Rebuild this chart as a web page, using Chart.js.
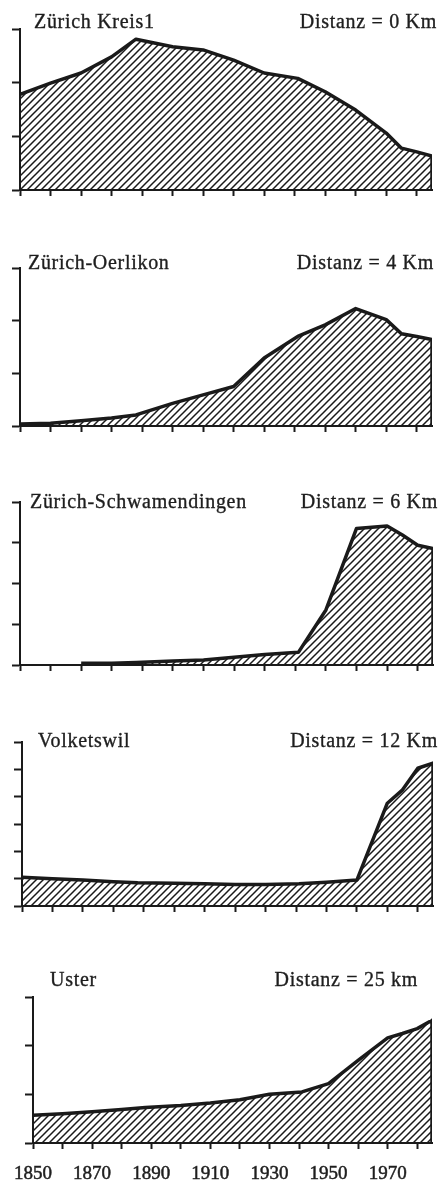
<!DOCTYPE html>
<html>
<head>
<meta charset="utf-8">
<title>Bevölkerungsentwicklung nach Distanz</title>
<script src="https://cdn.jsdelivr.net/npm/chart.js@4.4.1/dist/chart.umd.min.js"></script>
<style>
  html, body { margin: 0; padding: 0; background: #fff; }
  body { width: 443px; height: 1184px; position: relative; overflow: hidden; }
  .panel { position: absolute; left: 0; width: 443px; }
  .label {
    position: absolute;
    font-family: 'Liberation Serif', 'Times New Roman', serif;
    font-size: 20px;
    line-height: 20px;
    letter-spacing: 0.7px;
    color: #1e1e1e;
    -webkit-text-stroke: 0.35px #1e1e1e;
    white-space: nowrap;
  }
</style>
</head>
<body>
<script>
// Census years, shared by every panel
const years = [1850, 1860, 1870, 1880, 1888, 1900, 1910, 1920, 1930, 1941, 1950, 1960, 1970, 1975, 1980, 1985];

// Values per place (in axis tick units)
const kreis1 = [1.78, 1.99, 2.18, 2.48, 2.81, 2.67, 2.61, 2.42, 2.18, 2.08, 1.83, 1.49, 1.06, 0.78, 0.71, 0.63];
const oerlikon = [0.04, 0.05, 0.10, 0.15, 0.21, 0.43, 0.59, 0.75, 1.29, 1.70, 1.92, 2.23, 2.02, 1.75, 1.70, 1.64];
const schwamendingen = [null, null, 0.04, 0.04, 0.06, 0.10, 0.12, 0.19, 0.26, 0.31, 1.35, 3.35, 3.41, 3.19, 2.94, 2.86];
const volketswil = [1.05, 1.00, 0.95, 0.89, 0.85, 0.83, 0.81, 0.79, 0.79, 0.81, 0.87, 0.95, 3.76, 4.25, 5.04, 5.23];
const uster = [0.57, 0.60, 0.64, 0.69, 0.73, 0.77, 0.82, 0.89, 1.00, 1.05, 1.22, 1.70, 2.16, 2.25, 2.35, 2.52];

const placeNames = ['Zürich Kreis1', 'Zürich-Oerlikon', 'Zürich-Schwamendingen', 'Volketswil', 'Uster'];
const distances = ['Distanz = 0 Km', 'Distanz = 4 Km', 'Distanz = 6 Km', 'Distanz = 12 Km', 'Distanz = 25 km'];
const yMax = [3, 3, 4, 6, 3];
const xTickLabels = ['1850', '1870', '1890', '1910', '1930', '1950', '1970'];

const series = [kreis1, oerlikon, schwamendingen, volketswil, uster];

// Page placement of each panel: plot box and the two captions
const layout = [
  { top: 29,  bottom: 190,  left: 20, right: 432, nameX: 34, nameY: 11,  distR: 6 },
  { top: 268, bottom: 426,  left: 20, right: 432, nameX: 28, nameY: 252, distR: 9 },
  { top: 502, bottom: 665,  left: 20, right: 433, nameX: 30, nameY: 491, distR: 5 },
  { top: 742, bottom: 906,  left: 22, right: 433, nameX: 38, nameY: 730, distR: 5 },
  { top: 997, bottom: 1143, left: 27, right: 432, nameX: 50, nameY: 969, distR: 25 }
];

const ink = '#1a1a1a';

// Diagonal hatching like the original print
function makeHatch() {
  const s = 7;
  const c = document.createElement('canvas');
  c.width = s;
  c.height = s;
  const g = c.getContext('2d');
  g.strokeStyle = ink;
  g.lineWidth = 1.5;
  g.beginPath();
  g.moveTo(0, s); g.lineTo(s, 0);
  g.moveTo(-1, 1); g.lineTo(1, -1);
  g.moveTo(s - 1, s + 1); g.lineTo(s + 1, s - 1);
  g.stroke();
  return g.createPattern(c, 'repeat');
}
const hatch = makeHatch();

function addLabel(text, style) {
  const d = document.createElement('div');
  d.className = 'label';
  d.textContent = text;
  Object.assign(d.style, style);
  document.body.appendChild(d);
}

series.forEach((values, i) => {
  const box = layout[i];
  const isLast = i === series.length - 1;
  const padTop = 8;
  const canvasTop = box.top - padTop;
  const height = isLast ? 1184 - canvasTop : box.bottom - box.top + padTop + 6 + 4;
  // room under the plot for ticks (and year labels on the last panel)
  const xAxisHeight = isLast ? height - padTop - (box.bottom - box.top) : 6;

  const div = document.createElement('div');
  div.className = 'panel';
  div.style.top = canvasTop + 'px';
  div.style.height = height + 'px';
  const canvas = document.createElement('canvas');
  div.appendChild(canvas);
  document.body.appendChild(div);

  // points plus a closing point on the baseline at the last year
  const points = [];
  years.forEach((yr, k) => {
    if (values[k] !== null) points.push({ x: yr, y: values[k] });
  });
  points.push({ x: years[years.length - 1], y: 0 });

  new Chart(canvas, {
    type: 'line',
    data: {
      datasets: [{
        data: points,
        borderColor: ink,
        borderWidth: 3.5,
        borderJoinStyle: 'round',
        backgroundColor: hatch,
        fill: 'origin',
        pointRadius: 0,
        pointHoverRadius: 0,
        tension: 0
      }]
    },
    options: {
      responsive: true,
      maintainAspectRatio: false,
      animation: false,
      events: [],
      layout: {
        autoPadding: false,
        padding: { top: padTop, left: box.left - 8, right: 443 - box.right, bottom: isLast ? 0 : 4 }
      },
      plugins: { legend: { display: false }, tooltip: { enabled: false } },
      scales: {
        x: {
          type: 'linear',
          min: years[0],
          max: years[years.length - 1],
          afterFit: scale => { scale.height = xAxisHeight; },
          grid: { drawOnChartArea: false, drawTicks: true, tickLength: 6, tickColor: ink, tickWidth: 2 },
          border: { color: ink, width: 2 },
          ticks: {
            display: isLast,
            stepSize: 10,
            includeBounds: false,
            autoSkip: false,
            maxRotation: 0,
            padding: 14,
            color: '#1e1e1e',
            textStrokeColor: '#1e1e1e',
            textStrokeWidth: 0.5,
            font: { family: "'Liberation Serif', 'Times New Roman', serif", size: 19 },
            callback: value => xTickLabels.includes(String(value)) ? String(value) : ''
          }
        },
        y: {
          min: 0,
          max: yMax[i],
          grid: { drawOnChartArea: false, drawTicks: true, tickLength: 8, tickColor: ink, tickWidth: 2 },
          border: { color: ink, width: 2 },
          ticks: { display: false, stepSize: 1 }
        }
      }
    }
  });

  addLabel(placeNames[i], { left: box.nameX + 'px', top: box.nameY + 'px' });
  addLabel(distances[i], { right: box.distR + 'px', top: box.nameY + 'px' });
});
</script>
</body>
</html>
